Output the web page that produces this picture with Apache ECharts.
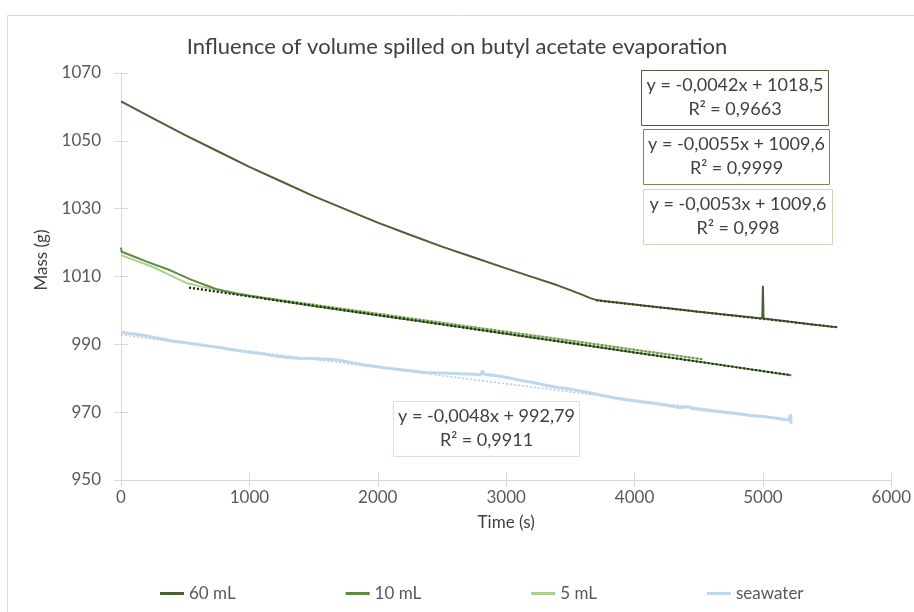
<!DOCTYPE html>
<html>
<head>
<meta charset="utf-8">
<script src="https://cdn.jsdelivr.net/npm/echarts@6/dist/echarts.min.js"></script>
<style>html,body{margin:0;padding:0;background:#fff;}#c{width:914px;height:612px;}</style>
</head>
<body>
<div id="c"></div>
<script>
// ---------- data ----------
const seriesNames = ['60 mL', '10 mL', '5 mL', 'seawater'];
const xTicks = [0, 1000, 2000, 3000, 4000, 5000, 6000];
const yTicks = [950, 970, 990, 1010, 1030, 1050, 1070];

const ml60 = [[0,1061.6],[250,1056.6],[500,1051.7],[750,1047.0],[1000,1042.3],[1250,1038.0],[1500,1033.7],[1750,1029.8],[2000,1025.9],[2250,1022.3],[2500,1018.8],[2750,1015.6],[3000,1012.4],[3200,1009.9],[3400,1007.4],[3500,1006.0],[3600,1004.5],[3650,1003.7],[3700,1003.1],[3760,1002.75],[3900,1002.2],[4100,1001.3],[4300,1000.5],[4500,999.6],[4700,998.8],[4995,997.6],[5000,1007.3],[5005,997.6],[5200,996.7],[5400,995.8],[5580,995.0]];
const ml10 = [[0,1018.5],[5,1017.3],[100,1015.9],[200,1014.4],[379,1011.9],[550,1009.0],[740,1006.3],[900,1004.9],[1200,1003.1],[1500,1001.3],[2000,998.6],[2500,995.9],[3000,993.1],[3500,990.4],[4000,987.6],[4500,984.9],[5000,982.1],[5220,980.9]];
const ml5 = [[0,1016.3],[120,1014.6],[250,1012.8],[380,1010.4],[508,1008.1],[650,1006.8],[765,1006.0],[1000,1004.4],[1500,1001.7],[2000,999.0],[2500,996.4],[3000,993.7],[3500,991.1],[4000,988.4],[4531,985.6]];
const seawater = [[0,993.6],[60,993.2],[120,993.0],[180,992.6],[250,992.1],[320,991.6],[400,991.0],[480,990.6],[560,990.2],[640,989.7],[700,989.4],[780,989.0],[860,988.5],[940,988.0],[1020,987.6],[1100,987.2],[1180,986.7],[1285,986.2],[1380,985.9],[1480,985.8],[1560,985.7],[1624,985.6],[1700,985.3],[1800,984.6],[1900,983.9],[2034,983.2],[2100,982.9],[2200,982.4],[2300,982.0],[2374,981.7],[2450,981.6],[2550,981.5],[2650,981.3],[2750,981.2],[2800,981.0],[2815,982.2],[2830,981.1],[2900,980.9],[3000,980.3],[3124,979.3],[3200,978.8],[3300,978.0],[3400,977.3],[3500,976.8],[3565,976.3],[3650,975.7],[3750,974.9],[3850,974.2],[3950,973.6],[4075,972.9],[4150,972.6],[4250,972.0],[4350,971.4],[4420,971.6],[4450,971.1],[4585,970.5],[4700,970.0],[4800,969.6],[4900,969.0],[5000,968.7],[5100,968.2],[5200,967.7],[5214,967.6],[5216,969.3],[5218,966.6],[5220,967.6]];

// trendline end points (from equations shown)
const trend60 = [[3700,1002.96],[5580,995.06]];
const trend10 = [[530,1006.69],[5220,980.89]];
const trend5 = [[530,1006.79],[4531,985.59]];
const trendSea = [[0,992.79],[5220,967.73]];

const eqLabels = [
  ['y = -0,0042x + 1018,5', 'R² = 0,9663'],
  ['y = -0,0055x + 1009,6', 'R² = 0,9999'],
  ['y = -0,0053x + 1009,6', 'R² = 0,998'],
  ['y = -0,0048x + 992,79', 'R² = 0,9911']
];

// ---------- chart ----------
const colors = ['#4b6034', '#5e8c3f', '#a9d08e', '#bdd7ee'];
const font = 'Lato, "Open Sans", sans-serif';
const txt = '#595959';

function box(x, y, w, h, stroke, lines) {
  return {
    type: 'group', left: x, top: y,
    children: [
      {type: 'rect', shape: {x: 0, y: 0, width: w, height: h}, style: {fill: '#fff', stroke: stroke, lineWidth: 1}},
      {type: 'text', style: {x: w / 2, y: 15, text: lines[0], fill: '#404040', font: '18px ' + font, align: 'center', verticalAlign: 'middle'}},
      {type: 'text', style: {x: w / 2, y: 39, text: lines[1], fill: '#404040', font: '18px ' + font, align: 'center', verticalAlign: 'middle'}}
    ]
  };
}
const plain = v => String(v);

const chart = echarts.init(document.getElementById('c'));
const axisLineStyle = {color: '#d9d9d9', width: 1};
chart.setOption({
  animation: false,
  backgroundColor: '#fff',
  title: {
    text: 'Influence of volume spilled on butyl acetate evaporation',
    left: 'center', top: 31,
    textStyle: {fontFamily: font, fontSize: 22, fontWeight: 'normal', color: '#404040'}
  },
  legend: {
    data: seriesNames,
    left: 155, top: 580,
    icon: 'rect', itemWidth: 24, itemHeight: 3, itemGap: 110,
    textStyle: {fontFamily: font, fontSize: 17, color: txt}
  },
  grid: {left: 121, right: 17, top: 73, bottom: 132},
  xAxis: [{
    type: 'value', min: xTicks[0], max: xTicks[xTicks.length - 1], interval: 1000,
    name: 'Time (s)', nameLocation: 'middle', nameGap: 34,
    nameTextStyle: {fontFamily: font, fontSize: 17, color: '#404040'},
    axisLine: {show: true, lineStyle: axisLineStyle},
    axisTick: {show: true, length: 7, lineStyle: axisLineStyle},
    axisLabel: {fontFamily: font, fontSize: 17, color: txt, margin: 9, formatter: plain},
    splitLine: {show: false}
  }, {
    type: 'value', min: xTicks[0], max: xTicks[xTicks.length - 1], interval: 1000, position: 'bottom',
    axisLine: {show: false}, axisTick: {show: true, inside: true, length: 7, lineStyle: axisLineStyle},
    axisLabel: {show: false}, splitLine: {show: false}
  }],
  yAxis: [{
    type: 'value', min: yTicks[0], max: yTicks[yTicks.length - 1], interval: 20,
    axisLine: {show: true, lineStyle: axisLineStyle},
    axisTick: {show: true, length: 7, lineStyle: axisLineStyle},
    axisLabel: {fontFamily: font, fontSize: 17, color: txt, margin: 20, formatter: plain},
    splitLine: {show: false}
  }, {
    type: 'value', min: yTicks[0], max: yTicks[yTicks.length - 1], interval: 20, position: 'left',
    axisLine: {show: false}, axisTick: {show: true, inside: true, length: 7, lineStyle: axisLineStyle},
    axisLabel: {show: false}, splitLine: {show: false}
  }],
  series: [
    {name: 'seawater trend', type: 'line', data: trendSea, showSymbol: false, z: 1, lineStyle: {color: '#b3cbe6', width: 1.5, type: [2, 2]}},
    {name: seriesNames[3], type: 'line', data: seawater, showSymbol: false, color: colors[3], lineStyle: {color: colors[3], width: 3}, z: 2},
    {name: seriesNames[2], type: 'line', data: ml5, showSymbol: false, color: colors[2], lineStyle: {color: colors[2], width: 2}, z: 3},
    {name: seriesNames[1], type: 'line', data: ml10, showSymbol: false, color: colors[1], lineStyle: {color: colors[1], width: 2}, z: 4},
    {name: seriesNames[0], type: 'line', data: ml60, showSymbol: false, color: colors[0], lineStyle: {color: colors[0], width: 2}, z: 5},
    {name: '5 mL trend', type: 'line', data: trend5, showSymbol: false, z: 6, lineStyle: {color: '#6d8f4c', width: 2, type: [2, 2]}},
    {name: '10 mL trend', type: 'line', data: trend10, showSymbol: false, z: 7, lineStyle: {color: '#1b2612', width: 2, type: [2, 2]}},
    {name: '60 mL trend', type: 'line', data: trend60, showSymbol: false, z: 7, lineStyle: {color: '#2f3b22', width: 2, type: [2, 2]}}
  ],
  graphic: [
    {type: 'rect', left: 5, top: 13, shape: {x: 0, y: 0, width: 920, height: 610}, style: {fill: 'none', stroke: '#d9d9d9', lineWidth: 1}, silent: true, z: -10},
    {type: 'text', x: 42, y: 260, rotation: Math.PI / 2, style: {text: 'Mass (g)', fill: '#404040', font: '17px ' + font, align: 'center', verticalAlign: 'middle'}},
    box(641, 70, 187, 55, '#4e5f3e', eqLabels[0]),
    box(643, 129, 186, 55, '#6d8f52', eqLabels[1]),
    box(643, 189, 189, 55, '#c8dbba', eqLabels[2]),
    box(393, 401, 186, 55, '#d3e2f1', eqLabels[3])
  ]
});
</script>
</body>
</html>
